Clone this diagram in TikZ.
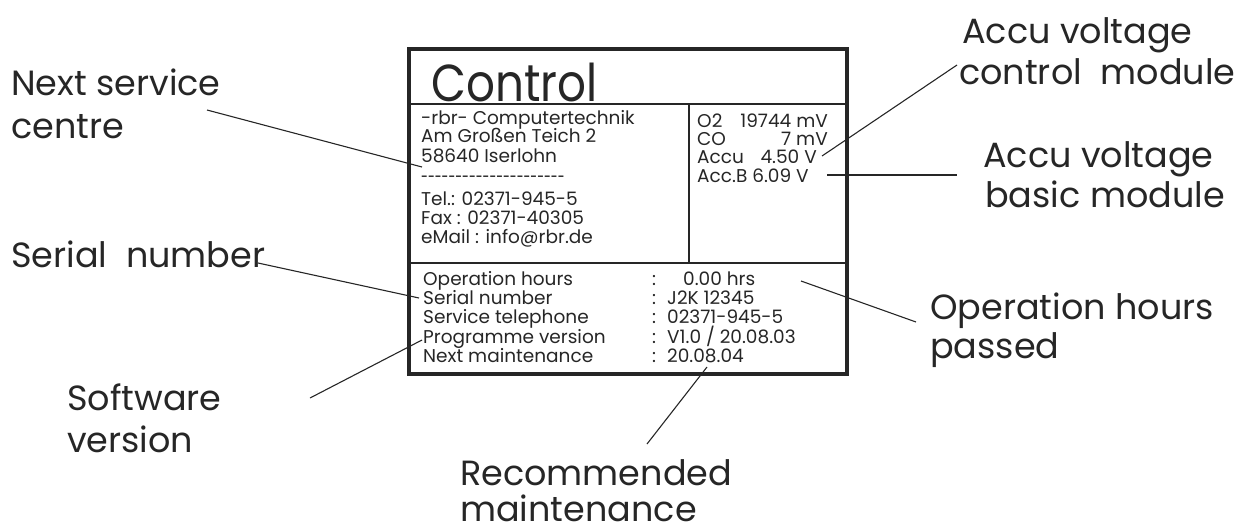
\documentclass[tikz,border=0pt]{standalone}
\usepackage{fontspec}
\setmainfont{Poppins}
\begin{document}
\begin{tikzpicture}[x=1pt,y=-1pt,
  boxtxt/.style={anchor=base west, inner sep=0pt, font=\fontsize{18.5}{20}\selectfont, text=black!85},
  boxtxte/.style={anchor=base east, inner sep=0pt, font=\fontsize{18.5}{20}\selectfont, text=black!85},
  lbl/.style={anchor=base west, inner sep=0pt, text depth=0pt, font=\fontsize{35}{40}\selectfont, text=black!85},
  title/.style={anchor=base west, inner sep=0pt, text depth=0pt, font=\fontsize{52}{60}\selectfont, text=black!85},
  frame/.style={line width=3.5pt, draw=black!85},
  divider/.style={line width=1.2pt, draw=black!85},
  conn/.style={line width=1.1pt, draw=black!85}]
\useasboundingbox (0,0) rectangle (1236,528);
% frame
\draw[frame] (409,49) rectangle (847,374);
\draw[divider] (409,104) -- (847,104);
\draw[divider] (409,263) -- (847,263);
\draw[divider] (689,104) -- (689,263);
% title
\node[title] (ttl) at (431,101) {\scalebox{0.87}[1]{Control}};
% left column
\node[boxtxt] (l1) at (421,124) {-rbr- Computertechnik};
\node[boxtxt] (l2) at (421,142) {Am Großen Teich 2};
\node[boxtxt] (l3) at (421,162) {58640 Iserlohn};
\node[boxtxt] (l4) at (421,183) {\scalebox{0.67}[1]{\mbox{-}\mbox{-}\mbox{-}\mbox{-}\mbox{-}\mbox{-}\mbox{-}\mbox{-}\mbox{-}\mbox{-}\mbox{-}\mbox{-}\mbox{-}\mbox{-}\mbox{-}\mbox{-}\mbox{-}\mbox{-}\mbox{-}\mbox{-}\mbox{-}}};
\node[boxtxt] (l5) at (421,205) {Tel.: 02371-945-5};
\node[boxtxt] (l6) at (421,224) {Fax : 02371-40305};
\node[boxtxt] (l7) at (421,243) {eMail : info@rbr.de};
% right column
\node[boxtxt] (r1a) at (697,127) {O2};
\node[boxtxte] (r1b) at (828,127) {19744 mV};
\node[boxtxt] (r2a) at (697,145) {CO};
\node[boxtxte] (r2b) at (828,145) {7 mV};
\node[boxtxt] (r3a) at (697,163) {Accu};
\node[boxtxte] (r3b) at (817,163) {4.50 V};
\node[boxtxt] (r4a) at (697,182) {Acc.B 6.09 V};
% bottom section
\node[boxtxt] (b1) at (423,285) {Operation hours};
\node[boxtxt] (b2) at (423,304) {Serial number};
\node[boxtxt] (b3) at (423,323.5) {Service telephone};
\node[boxtxt] (b4) at (423,343) {Programme version};
\node[boxtxt] (b5) at (423,362.5) {Next maintenance};
\node[boxtxt] (c1) at (652,285) {:};
\node[boxtxt] (c2) at (652,304) {:};
\node[boxtxt] (c3) at (652,323.5) {:};
\node[boxtxt] (c4) at (652,343) {:};
\node[boxtxt] (c5) at (652,362.5) {:};
\node[boxtxt] (v1) at (683,285) {0.00 hrs};
\node[boxtxt] (v2) at (667,304) {J2K 12345};
\node[boxtxt] (v3) at (667,323.5) {02371-945-5};
\node[boxtxt] (v4) at (667,343) {V1.0 / 20.08.03};
\node[boxtxt] (v5) at (667,362.5) {20.08.04};
% outer labels
\node[lbl] (nsA) at (11,95) {Next service};
\node[lbl] (nsB) at (11,138) {centre};
\node[lbl] (snA) at (11,267) {Serial\ \ number};
\node[lbl] (swA) at (67,410) {Software};
\node[lbl] (swB) at (67,452) {version};
\node[lbl] (rmA) at (460,485) {Recommended};
\node[lbl] (rmB) at (460,521) {maintenance};
\node[lbl] (ohA) at (930,319) {Operation hours};
\node[lbl] (ohB) at (930,358) {passed};
\node[lbl] (abA) at (983,167) {Accu voltage};
\node[lbl] (abB) at (985,207) {basic module};
\node[lbl] (acA) at (962,43) {Accu voltage};
\node[lbl] (acB) at (959,84) {control\ \ module};
% connector end points
\coordinate (ns1) at (207,110); \coordinate (ns2) at (422,167);
\coordinate (sn1) at (258,263); \coordinate (sn2) at (419,298);
\coordinate (sw1) at (310,398); \coordinate (sw2) at (422,340);
\coordinate (rm1) at (647,444); \coordinate (rm2) at (707,367);
\coordinate (oh1) at (801,281); \coordinate (oh2) at (916,322);
\coordinate (ab1) at (827,175); \coordinate (ab2) at (957,175);
\coordinate (ac1) at (822,156); \coordinate (ac2) at (957,65);
\draw[conn] (ns1) -- (ns2);
\draw[conn] (sn1) -- (sn2);
\draw[conn] (sw1) -- (sw2);
\draw[conn] (rm1) -- (rm2);
\draw[conn] (oh1) -- (oh2);
\draw[conn] (ab1) -- (ab2);
\draw[conn] (ac1) -- (ac2);
\end{tikzpicture}
\end{document}
